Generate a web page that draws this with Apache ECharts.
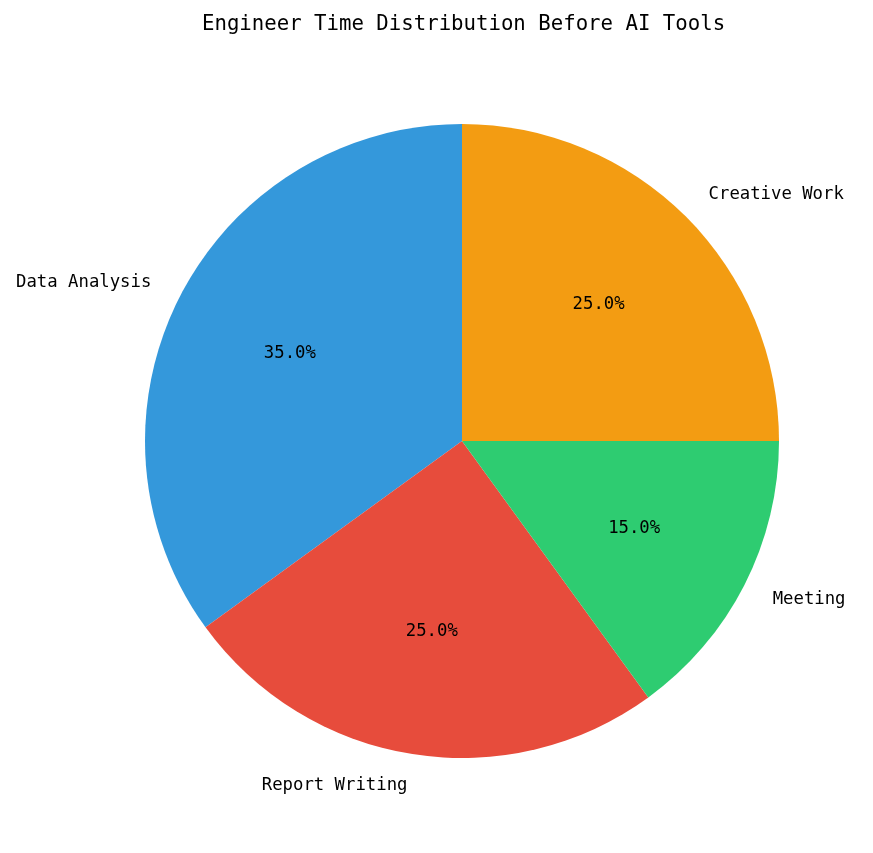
<!DOCTYPE html>
<html><head><meta charset="utf-8">
<script src="https://cdn.jsdelivr.net/npm/echarts@6/dist/echarts.min.js"></script>
<style>html,body{margin:0;padding:0;background:#fff}#c{width:873px;height:853px}</style>
</head><body><div id="c"></div>
<script>
const categories = ['Data Analysis', 'Report Writing', 'Meeting', 'Creative Work'];
const values = [35, 25, 15, 25];
const colors = ['#3498db', '#e74c3c', '#2ecc71', '#f39c12'];
const titleText = 'Engineer Time Distribution Before AI Tools';

const R = 317;
const center = [462, 441];
const font = '"DejaVu Sans Mono", "Liberation Mono", monospace';
const total = values.reduce((a, b) => a + b, 0);
const mainData = categories.map((c, i) => ({ name: c, value: values[i], itemStyle: { color: colors[i] } }));
const pctData = categories.map((c, i) => ({ name: c, value: values[i] }));

const chart = echarts.init(document.getElementById('c'), null, { renderer: 'canvas' });
chart.setOption({
  backgroundColor: '#ffffff',
  animation: false,
  title: {
    text: titleText, left: 197, top: 9,
    textStyle: { fontFamily: font, fontSize: 20.7, fontWeight: 'normal', color: '#000' }
  },
  series: [
    {
      type: 'pie', center: center, radius: [0, R], startAngle: 90, clockwise: false,
      avoidLabelOverlap: false, silent: true,
      data: mainData,
      label: {
        show: true, position: 'outside', formatter: '{b}', color: '#000',
        fontFamily: font, fontSize: 17.3, distanceToLabelLine: 0
      },
      labelLine: { show: false, length: R * 0.1, length2: 0 },
      itemStyle: { borderWidth: 0 }
    },
    {
      type: 'pie', center: center, radius: [0, R * 1.2], startAngle: 90, clockwise: false,
      avoidLabelOverlap: false, silent: true, z: 3,
      data: pctData,
      itemStyle: { color: 'rgba(0,0,0,0)', borderWidth: 0 },
      label: {
        show: true, position: 'inside', color: '#000', fontFamily: font, fontSize: 17.3,
        formatter: p => (p.value / total * 100).toFixed(1) + '%'
      },
      labelLine: { show: false }
    }
  ]
});
</script></body></html>
